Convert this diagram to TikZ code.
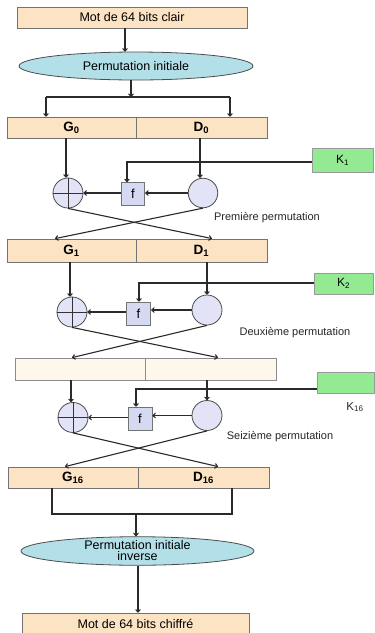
\documentclass[tikz,border=0pt]{standalone}
\usepackage{fontspec}
\setmainfont{Liberation Sans}
\usetikzlibrary{arrows.meta,shapes.geometric}
\definecolor{boxor}{HTML}{FBE3C3}
\definecolor{boxcr}{HTML}{FEF8EC}
\definecolor{ellbl}{HTML}{B3E0E8}
\definecolor{cirbl}{HTML}{E2E3F7}
\definecolor{fbox}{HTML}{D6D9F2}
\definecolor{kgr}{HTML}{93EA93}
\definecolor{lin}{HTML}{2A2A2A}
\tikzset{
  wbox/.style={draw=black!55,line width=0.8pt,fill=boxor,minimum height=21pt,inner sep=0pt,font=\fontsize{12.5}{14}\selectfont},
  half/.style={draw=black!55,line width=0.8pt,fill=boxor,inner sep=0pt,font=\bfseries\fontsize{13.5}{14}\selectfont},
  halfc/.style={draw=black!45,line width=0.8pt,fill=boxcr,inner sep=0pt},
  ell/.style={ellipse,draw=black!70,line width=0.8pt,fill=ellbl,inner sep=0pt,font=\fontsize{12.5}{13}\selectfont,align=center},
  xorc/.style={circle,draw=black!70,line width=0.8pt,fill=cirbl,minimum size=30pt,inner sep=0pt},
  rc/.style={circle,draw=black!70,line width=0.8pt,fill=cirbl,minimum size=29.5pt,inner sep=0pt},
  fb/.style={draw=black!55,line width=0.8pt,fill=fbox,minimum width=23.5pt,minimum height=23pt,inner sep=0pt,font=\fontsize{13}{14}\selectfont},
  kb/.style={draw=black!40,line width=0.8pt,fill=kgr,inner sep=0pt,font=\fontsize{12}{14}\selectfont},
  lab/.style={font=\fontsize{11}{13}\selectfont,text=black!85},
  con/.style={draw=lin,line width=1.1pt},
  arr/.style={draw=lin,line width=1.1pt,-{To[length=3.5pt,width=5.5pt]}},
}
\begin{document}
\begin{tikzpicture}[x=1pt,y=-1pt]
\useasboundingbox[fill=white] (0,0) rectangle (375,633);
% top
\node[wbox,minimum width=230pt] (top) at (132,17.5) {Mot de 64 bits clair};
\node[ell,minimum width=234pt,minimum height=28pt] (e1) at (136,66) {Permutation initiale};
\node[half,minimum width=129pt,minimum height=21pt] (g0) at (71.5,127.5) {G\textsubscript{0}};
\node[half,minimum width=131pt,minimum height=21pt] (d0) at (201.5,127.5) {D\textsubscript{0}};
\coordinate (j0) at (131,97);
\coordinate (jl) at (46,97);
\coordinate (jr) at (230,97);
\draw[arr] (top.south -| 125,0) -- (e1.north -| 125,0);
\draw[arr] (e1.south -| j0) -- (j0);
\draw[con] (jl) -- (jr);
\draw[arr] (jl) -- (jl |- g0.north);
\draw[arr] (jr) -- (jr |- d0.north);
% round 1
\node[xorc] (x1) at (68,193) {};
\draw[line width=0.8pt,black!80] (x1.north) -- (x1.south) (x1.west) -- (x1.east);
\node[rc] (r1) at (203,193) {};
\node[fb] (f1) at (133,194) {f};
\node[kb,minimum width=61pt,minimum height=24pt] (k1) at (342.5,160) {K\textsubscript{1}};
\node[lab] (l1) at (267,218) {Première permutation};
\node[half,minimum width=129pt,minimum height=23pt] (g1) at (71.5,250.5) {G\textsubscript{1}};
\node[half,minimum width=131pt,minimum height=23pt] (d1) at (201.5,250.5) {D\textsubscript{1}};
\draw[arr] (g0.south -| 66,0) -- (x1.north -| 66,0);
\draw[arr] (d0.south -| 200,0) -- (r1.north -| 200,0);
\draw[arr] (k1.west |- 0,162) -| (f1.north -| 127,0);
\draw[arr] (r1.west) -- (f1.east |- r1.west);
\draw[arr] (f1.west |- x1.east) -- (x1.east);
\draw[arr] (x1.south) -- (g1.north -| 212,0);
\draw[arr] (r1.south) -- (g1.north -| 55,0);
% round 2
\node[xorc] (x2) at (72,312) {};
\draw[line width=0.8pt,black!80] (x2.north) -- (x2.south) (x2.west) -- (x2.east);
\node[rc,minimum size=30pt] (r2) at (207,310) {};
\node[fb,minimum width=24.5pt] (f2) at (138.5,313.5) {f};
\node[kb,minimum width=59pt,minimum height=21pt] (k2) at (343.5,283.5) {K\textsubscript{2}};
\node[lab] (l2) at (295,333) {Deuxième permutation};
\node[halfc,minimum width=130pt,minimum height=22pt] (g2) at (80,369) {};
\node[halfc,minimum width=131pt,minimum height=22pt] (d2) at (210.5,369) {};
\draw[arr] (g1.south -| 70,0) -- (x2.north -| 70,0);
\draw[arr] (d1.south -| 207,0) -- (r2.north);
\draw[arr] (k2.west |- 0,283) -| (f2.north -| 139,0);
\draw[arr] (r2.west) -- (f2.east |- r2.west);
\draw[arr] (f2.west |- x2.east) -- (x2.east);
\draw[arr] (x2.south) -- (g2.north -| 218,0);
\draw[arr] (r2.south) -- (g2.north -| 72,0);
% round 16
\node[xorc] (x3) at (73,417.5) {};
\draw[line width=0.8pt,black!80] (x3.north) -- (x3.south) (x3.west) -- (x3.east);
\node[rc,minimum size=30pt] (r3) at (207,415.5) {};
\node[fb,minimum width=24pt] (f3) at (140,418.5) {f};
\node[kb,minimum width=57pt,minimum height=21pt] (k3) at (345.5,382.5) {};
\node[font=\fontsize{11.5}{13}\selectfont,text=black!85] (k3l) at (355,407) {K\textsubscript{16}};
\node[lab] (l3) at (280,437) {Seizième permutation};
\node[half,minimum width=130pt,minimum height=21pt] (g3) at (73,477.5) {G\textsubscript{16}};
\node[half,minimum width=131pt,minimum height=21pt] (d3) at (203.5,477.5) {D\textsubscript{16}};
\draw[arr] (g2.south -| 71,0) -- (x3.north -| 71,0);
\draw[arr] (d2.south -| 207,0) -- (r3.north);
\draw[arr] (k3.west |- 0,389) -| (f3.north -| 136,0);
\draw[arr] (r3.west) -- (f3.east |- r3.west);
\draw[arr] (f3.west |- x3.east) -- (x3.east);
\draw[arr] (x3.south) -- (g3.north -| 218,0);
\draw[arr] (r3.south) -- (g3.north -| 65,0);
% final
\coordinate (bl) at (52,514);
\coordinate (br) at (232,514);
\coordinate (bm) at (136,514);
\draw[con] (g3.south -| bl) -- (bl) -- (br) -- (d3.south -| br);
\node[ell,minimum width=233pt,minimum height=28pt] (e2) at (137.5,551) {Permutation initiale\\[-2pt]inverse};
\node[wbox,minimum width=227pt,minimum height=22pt] (bot) at (135.5,624) {Mot de 64 bits chiffré};
\draw[arr] (bm) -- (e2.north -| bm);
\draw[arr] (e2.south -| 138,0) -- (bot.north -| 138,0);
\end{tikzpicture}
\end{document}
